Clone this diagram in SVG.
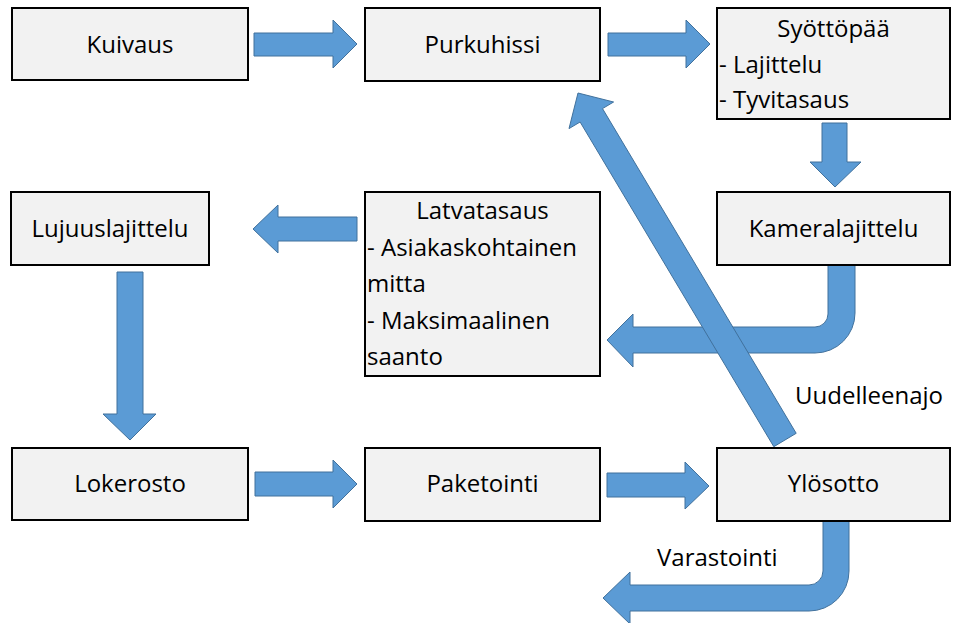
<svg xmlns="http://www.w3.org/2000/svg" width="953" height="623" viewBox="0 0 953 623">
<style>
.box{fill:#F2F2F2;stroke:#000;stroke-width:2}
.arr{fill:#5B9BD5;stroke:#41719C;stroke-width:1}
text{font-family:"Open Sans","Liberation Sans",sans-serif;font-size:24px;fill:#000}
.c{text-anchor:middle}
</style>
<rect width="953" height="623" fill="#fff"/>
<g id="connectors">
<polygon class="arr" points="254,33 333,33 333,20 357,44 333,68 333,56 254,56"/>
<polygon class="arr" points="608,33 686,33 686,20 710,44 686,68 686,56 608,56"/>
<polygon class="arr" points="822,123 847,123 847,162 861,162 835,187 810,162 822,162"/>
<polygon class="arr" points="357,217 278,217 278,205 253,229 278,253 278,241 357,241"/>
<polygon class="arr" points="117,272 143,272 143,414 156,414 130,440 103,414 117,414"/>
<polygon class="arr" points="255,472 333,472 333,460 357,484 333,508 333,496 255,496"/>
<polygon class="arr" points="607,473 685,473 685,462 709,486 685,509 685,497 607,497"/>
<path class="arr" d="M828,265 L855,265 L855,313 A40,40 0 0 1 815,353 L633,353 L633,367 L607,340 L633,314 L633,327 L815,327 A13,13 0 0 0 828,314 Z"/>
<path class="arr" d="M823,521 L849,521 L849,571 A40,40 0 0 1 809,611 L630,611 L630,624 L603,598 L630,572 L630,585 L809,585 A14,14 0 0 0 823,571 Z"/>
<polygon class="arr" points="578,93 613.6,102 602.5,108.6 796.2,433.3 773.8,446.7 580.1,122 569,128.6"/>
<text x="795" y="404">Uudelleenajo</text>
<text x="657" y="566">Varastointi</text>
</g>
<g id="kuivaus"><rect class="box" x="12" y="8" width="236" height="72"/><text class="c" x="130" y="53">Kuivaus</text></g>
<g id="purkuhissi"><rect class="box" x="365" y="8" width="235" height="73"/><text class="c" x="482.5" y="53">Purkuhissi</text></g>
<g id="syottopaa"><rect class="box" x="717" y="8" width="233" height="111"/><text class="c" x="833.5" y="37">Syöttöpää</text><text x="719" y="73">- Lajittelu</text><text x="719" y="108">- Tyvitasaus</text></g>
<g id="lujuuslajittelu"><rect class="box" x="11" y="192" width="198" height="73"/><text class="c" x="110" y="237">Lujuuslajittelu</text></g>
<g id="latvatasaus"><rect class="box" x="365" y="192" width="235" height="184"/><text class="c" x="482.5" y="219">Latvatasaus</text><text x="367" y="256">- Asiakaskohtainen</text><text x="367" y="292">mitta</text><text x="367" y="329">- Maksimaalinen</text><text x="367" y="365">saanto</text></g>
<g id="kameralajittelu"><rect class="box" x="717" y="192" width="233" height="73"/><text class="c" x="833.5" y="237">Kameralajittelu</text></g>
<g id="lokerosto"><rect class="box" x="12" y="448" width="236" height="72"/><text class="c" x="130" y="492">Lokerosto</text></g>
<g id="paketointi"><rect class="box" x="365" y="448" width="235" height="73"/><text class="c" x="482.5" y="492">Paketointi</text></g>
<g id="ylosotto"><rect class="box" x="717" y="448" width="233" height="73"/><text class="c" x="833.5" y="492">Ylösotto</text></g>
</svg>
